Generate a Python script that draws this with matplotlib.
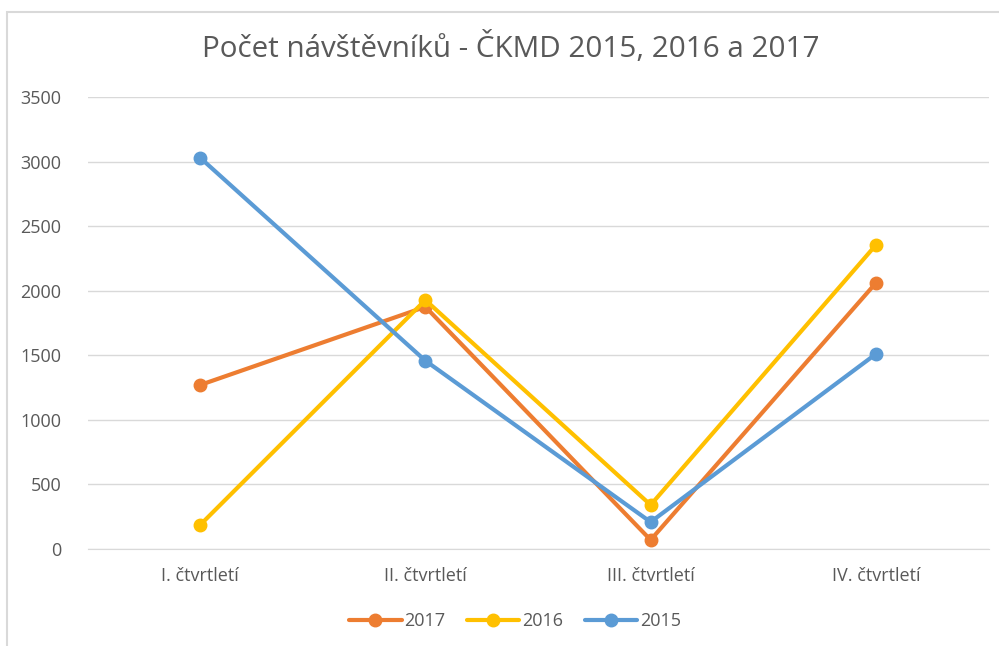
import matplotlib
matplotlib.use("Agg")
import matplotlib.pyplot as plt
from matplotlib.patches import Rectangle

categories = ["I. čtvrtletí", "II. čtvrtletí", "III. čtvrtletí", "IV. čtvrtletí"]
v2017 = [1270, 1875, 70, 2060]
v2016 = [186, 1928, 341, 2354]
v2015 = [3030, 1458, 209, 1510]
series = [("2017", v2017, "#ED7D31"), ("2016", v2016, "#FFC000"), ("2015", v2015, "#5B9BD5")]
yticks = [0, 500, 1000, 1500, 2000, 2500, 3000, 3500]

plt.rcParams["font.family"] = ["Open Sans", "DejaVu Sans"]
txt = "#595959"

fig = plt.figure(figsize=(9.99, 6.46), dpi=100)
# outer chart frame (left + top edges visible, the rest runs off the image)
fig.patches.append(Rectangle((6.5 / 999, -0.01), 1.0, 1 - 11.5 / 646 + 0.01, transform=fig.transFigure,
                             fill=False, ec="#D9D9D9", lw=1.5))
ax = fig.add_axes([87.5 / 999, 1 - 549 / 646, (988.5 - 87.5) / 999, (549 - 97) / 646])

x = list(range(len(categories)))
for name, vals, c in series:
    ax.plot(x, vals, "-o", color=c, lw=3.0, ms=9, label=name, solid_capstyle="round", zorder=3)

ax.set_xlim(-0.5, 3.5)
ax.set_ylim(0, 3500)
ax.set_yticks(yticks)
ax.set_yticklabels([str(t) for t in yticks], color=txt, fontsize=13)
ax.set_xticks(x)
ax.set_xticklabels(categories, color=txt, fontsize=13)
ax.tick_params(length=0)
ax.tick_params(axis="y", pad=19)
ax.tick_params(axis="x", pad=13)
ax.grid(axis="y", color="#D9D9D9", lw=1.0, zorder=0)
for s in ["left", "right", "top"]:
    ax.spines[s].set_visible(False)
ax.spines["bottom"].set_color("#D9D9D9")
ax.set_axisbelow(True)

fig.text(0.511, 1 - 48 / 646, "Počet návštěvníků - ČKMD 2015, 2016 a 2017", ha="center", va="center",
         fontsize=21.3, color=txt)

ax.legend(loc="center", bbox_to_anchor=(515 / 999, 1 - 621 / 646), bbox_transform=fig.transFigure,
          ncol=3, frameon=False, fontsize=13, labelcolor=txt, handlelength=2.9,
          handletextpad=0.15, columnspacing=1.2)

fig.savefig("out.png", dpi=100)
